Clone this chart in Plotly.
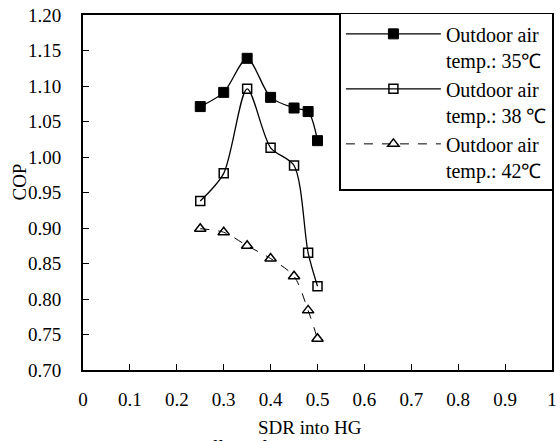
import plotly.graph_objects as go

sdr = [0.25, 0.30, 0.35, 0.40, 0.45, 0.48, 0.50]
cop_35 = [1.071, 1.091, 1.139, 1.084, 1.069, 1.064, 1.023]
cop_38 = [0.938, 0.977, 1.096, 1.013, 0.988, 0.865, 0.818]
cop_42 = [0.899, 0.894, 0.875, 0.857, 0.832, 0.784, 0.744]

names = ["Outdoor air<br>temp.: 35℃", "Outdoor air<br>temp.: 38 ℃", "Outdoor air<br>temp.: 42℃"]
x_ticks = [0, 0.1, 0.2, 0.3, 0.4, 0.5, 0.6, 0.7, 0.8, 0.9, 1]
x_tick_text = ["0", "0.1", "0.2", "0.3", "0.4", "0.5", "0.6", "0.7", "0.8", "0.9", "1"]
y_ticks = [0.70, 0.75, 0.80, 0.85, 0.90, 0.95, 1.00, 1.05, 1.10, 1.15, 1.20]

FONT = "Liberation Serif"

fig = go.Figure()
fig.add_trace(go.Scatter(
    x=sdr, y=cop_35, name=names[0], mode="lines+markers",
    line=dict(color="black", width=1.3, shape="spline", smoothing=0.8),
    marker=dict(symbol="square", size=10, color="black", line=dict(color="black", width=1)),
))
fig.add_trace(go.Scatter(
    x=sdr, y=cop_38, name=names[1], mode="lines+markers",
    line=dict(color="black", width=1.3, shape="spline", smoothing=0.8),
    marker=dict(symbol="square-open", size=9, color="black", line=dict(width=1.5)),
))
fig.add_trace(go.Scatter(
    x=sdr, y=cop_42, name=names[2], mode="lines+markers",
    line=dict(color="black", width=1, dash="dash", shape="spline", smoothing=0.8),
    marker=dict(symbol="triangle-up-open", size=10, color="black", line=dict(width=1.5)),
))

fig.update_layout(
    width=560, height=441,
    margin=dict(l=83, r=3, t=15, b=71),
    paper_bgcolor="white", plot_bgcolor="white",
    font=dict(family=FONT, size=19, color="black"),
    showlegend=True,
    legend=dict(
        x=1.003, y=1.006, xanchor="right", yanchor="top",
        bgcolor="white", bordercolor="black", borderwidth=1.5,
        font=dict(family=FONT, size=20, color="black"),
        valign="top", itemwidth=95, tracegroupgap=0,
    ),
    xaxis=dict(
        range=[0, 1], tickvals=x_ticks, ticktext=x_tick_text,
        ticks="inside", ticklen=6, tickwidth=1, tickcolor="black",
        showline=True, linecolor="black", linewidth=2, mirror=True,
        showgrid=False, zeroline=False, ticklabelstandoff=11,
        ticklabeloverflow="allow",
        tickfont=dict(family=FONT, size=19),
    ),
    yaxis=dict(
        range=[0.70, 1.20], tickvals=y_ticks, tickformat=".2f",
        ticks="inside", ticklen=6, tickwidth=1, tickcolor="black",
        showline=True, linecolor="black", linewidth=2, mirror=True,
        showgrid=False, zeroline=False, ticklabelstandoff=16,
        ticklabeloverflow="allow",
        tickfont=dict(family=FONT, size=19),
    ),
    annotations=[
        dict(text="SDR into HG", xref="paper", yref="paper", x=0.485, y=-0.128,
             xanchor="center", yanchor="top", showarrow=False,
             font=dict(family=FONT, size=19)),
        dict(text="COP", xref="paper", yref="paper", x=-0.135, y=0.53,
             xanchor="center", yanchor="middle", showarrow=False, textangle=-90,
             font=dict(family=FONT, size=19)),
        dict(text="<i>Fig. 3   Effect of SDR into HG on COP</i>", xref="paper", yref="paper",
             x=0.44, y=-0.183, xanchor="center", yanchor="top", showarrow=False,
             font=dict(family=FONT, size=20)),
    ],
)

fig.write_html("out.html", config={"displayModeBar": False},
               post_script="document.body.style.margin='0';")
